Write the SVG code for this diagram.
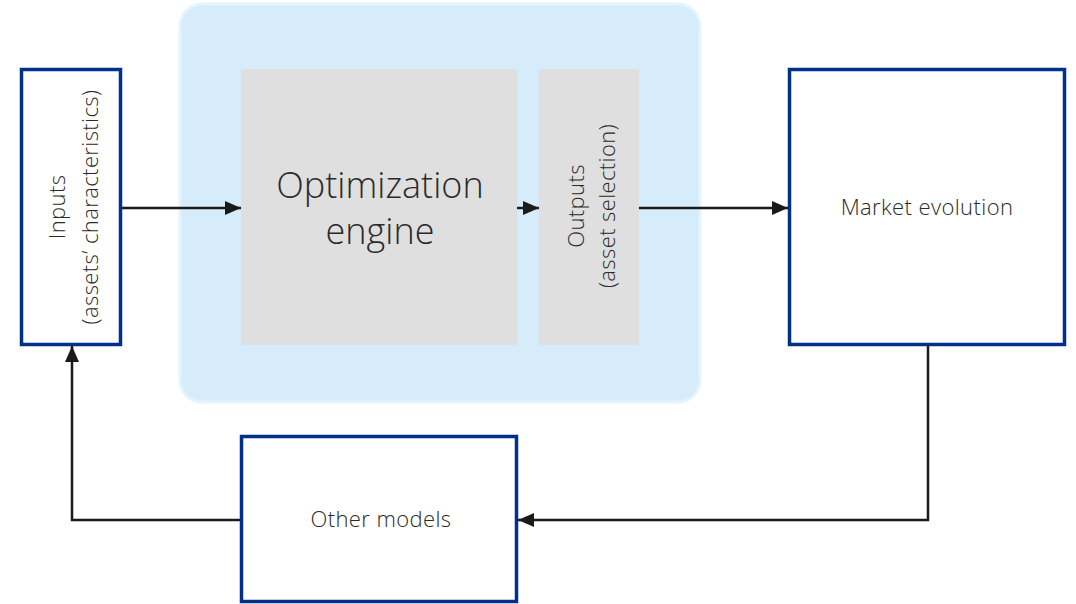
<svg xmlns="http://www.w3.org/2000/svg" width="1076" height="604" viewBox="0 0 1076 604">
<style>
.box{fill:#fff;stroke:#00308a;stroke-width:3.5}
.grey{fill:#dfdfdf}
.t{font-family:"Open Sans","Liberation Sans",sans-serif;font-weight:300;fill:#2a2a2a;text-anchor:middle}
.s{font-size:22px;letter-spacing:0.4px}
.c{fill:none;stroke:#1a1a1a;stroke-width:2.5}
</style>
<defs>
<marker id="ah" markerUnits="userSpaceOnUse" markerWidth="16" markerHeight="16" viewBox="0 0 16 16" refX="16" refY="8" orient="auto">
<path d="M0,1 L16,8 L0,15 Z" fill="#1a1a1a"/>
</marker>
</defs>
<rect x="0" y="0" width="1076" height="604" fill="#fff"/>
<g id="container">
<rect x="180" y="4" width="520" height="398" rx="22" fill="#d6ecfb" stroke="#e4f4fd" stroke-width="3"/>
</g>
<g id="engine">
<rect class="grey" x="241" y="69" width="276" height="276"/>
<text class="t" x="380" y="198" font-size="36">Optimization</text>
<text class="t" x="380" y="244" font-size="36">engine</text>
</g>
<g id="outputs">
<rect class="grey" x="539" y="69" width="100" height="276"/>
<text class="t s" transform="translate(589,206) rotate(-90)"><tspan x="0" y="-5">Outputs</tspan><tspan x="0" y="26">(asset selection)</tspan></text>
</g>
<g id="inputs">
<rect class="box" x="21.5" y="69.5" width="99" height="275"/>
<text class="t s" transform="translate(72,207) rotate(-90)"><tspan x="0" y="-7">Inputs</tspan><tspan x="0" y="26">(assets’ characteristics)</tspan></text>
</g>
<g id="market">
<rect class="box" x="789.5" y="69.5" width="275" height="275"/>
<text class="t s" x="927" y="215">Market evolution</text>
</g>
<g id="other">
<rect class="box" x="241.5" y="436.5" width="275" height="165"/>
<text class="t s" x="381" y="527">Other models</text>
</g>
<g id="connectors">
<path class="c" d="M122,208 L241,208" marker-end="url(#ah)"/>
<path class="c" d="M517,208 L539,208" marker-end="url(#ah)"/>
<path class="c" d="M639,208 L788,208" marker-end="url(#ah)"/>
<path class="c" d="M928,346 L928,520 L518,520" marker-end="url(#ah)"/>
<path class="c" d="M240,520 L72,520 L72,346" marker-end="url(#ah)"/>
</g>
</svg>
